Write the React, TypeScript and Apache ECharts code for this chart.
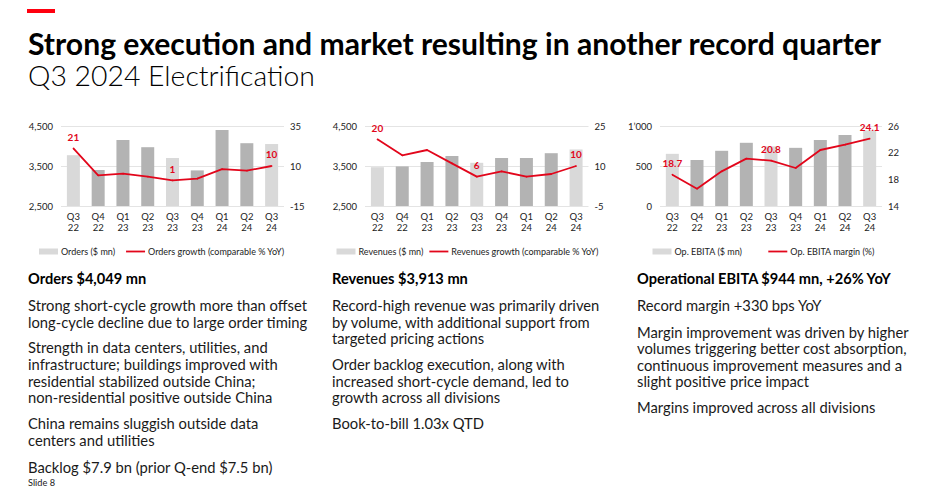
import React, { useEffect, useRef } from 'react';
import * as echarts from 'echarts';

// ---------- data ----------
const categories = ['Q3\n22', 'Q4\n22', 'Q1\n23', 'Q2\n23', 'Q3\n23', 'Q4\n23', 'Q1\n24', 'Q2\n24', 'Q3\n24'];

const ordersValues = [3770, 3400, 4150, 3970, 3700, 3390, 4400, 4070, 4049];
const ordersGrowth = [21, 4.2, 5.2, 3.3, 1, 2.1, 8.1, 7.1, 10];

const revenuesValues = [3470, 3490, 3600, 3750, 3580, 3700, 3700, 3820, 3913];
const revenuesGrowth = [20, 14, 16, 11, 6, 8, 6, 7, 10];

const ebitaValues = [652, 575, 690, 790, 745, 727, 826, 886, 944];
const ebitaMargin = [18.7, 16.6, 19.2, 21.1, 20.8, 19.7, 22.4, 23.2, 24.1];

const ordersLeftTicks = [2500, 3500, 4500];
const ordersRightTicks = [-15, 10, 35];
const revenuesLeftTicks = [2500, 3500, 4500];
const revenuesRightTicks = [-5, 10, 25];
const ebitaLeftTicks = [0, 500, 1000];
const ebitaRightTicks = [14, 18, 22, 26];

const legendNames = [
  ['Orders ($ mn)', 'Orders growth (comparable % YoY)'],
  ['Revenues ($ mn)', 'Revenues growth (comparable % YoY)'],
  ['Op. EBITA ($ mn)', 'Op. EBITA margin (%)'],
];

const titleText = 'Strong execution and market resulting in another record quarter';
const subtitleText = 'Q3 2024 Electrification';

const headings = ['Orders $4,049 mn', 'Revenues $3,913 mn', 'Operational EBITA $944 mn, +26% YoY'];
const paragraphs = [
  [
    'Strong short-cycle growth more than offset\nlong-cycle decline due to large order timing',
    'Strength in data centers, utilities, and\ninfrastructure; buildings improved with\nresidential stabilized outside China;\nnon-residential positive outside China',
    'China remains sluggish outside data\ncenters and utilities',
    'Backlog $7.9 bn (prior Q-end $7.5 bn)',
  ],
  [
    'Record-high revenue was primarily driven\nby volume, with additional support from\ntargeted pricing actions',
    'Order backlog execution, along with\nincreased short-cycle demand, led to\ngrowth across all divisions',
    'Book-to-bill 1.03x QTD',
  ],
  [
    'Record margin +330 bps YoY',
    'Margin improvement was driven by higher\nvolumes triggering better cost absorption,\ncontinuous improvement measures and a\nslight positive price impact',
    'Margins improved across all divisions',
  ],
];
const slideText = 'Slide 8';

// ---------- style ----------
const FAMILY = 'Lato';
const FONT = 'Lato, "Noto Sans", sans-serif';
const RED = '#e2061b';
const LIGHT = '#d9d9d9';
const DARK = '#b3b3b3';
const TEXT = '#1a1a1a';

function fit(text: string, weight: number, target: number): number {
  const ctx = document.createElement('canvas').getContext('2d');
  if (!ctx) return 12;
  ctx.font = `${weight} 100px ${FAMILY}`;
  const w = ctx.measureText(text).width;
  return (100 * target) / w;
}

const isQ3 = (c: string) => c.startsWith('Q3');

export default function App() {
  const ref = useRef<HTMLDivElement>(null);

  useEffect(() => {
    document.body.style.margin = '0';
    if (!ref.current) return;
    const chart = echarts.init(ref.current, null, { renderer: 'svg' });

    const titleSize = fit(titleText, 700, 854);
    const subSize = fit(subtitleText, 300, 287);
    const headSize = fit(headings[2], 700, 255);
    const bodySize = fit('Strong short-cycle growth more than offset', 400, 279);
    const slideSize = fit(slideText, 400, 27);

    const grids = [
      { left: 61, top: 126, width: 223, height: 80 },
      { left: 365, top: 126, width: 223.5, height: 80 },
      { left: 660, top: 126, width: 222, height: 80 },
    ];
    const bars = [ordersValues, revenuesValues, ebitaValues];
    const lines = [ordersGrowth, revenuesGrowth, ebitaMargin];
    const leftTicks = [ordersLeftTicks, revenuesLeftTicks, ebitaLeftTicks];
    const rightTicks = [ordersRightTicks, revenuesRightTicks, ebitaRightTicks];
    const leftFmt = [
      (v: number) => v.toLocaleString('en-US'),
      (v: number) => v.toLocaleString('en-US'),
      (v: number) => v.toLocaleString('en-US').replace(',', '\u2019'),
    ];

    const axisLabelBase = { fontFamily: FONT, fontSize: 9.5, color: '#222' };

    const xAxis = grids.map((_, i) => ({
      type: 'category',
      gridIndex: i,
      data: categories,
      axisLine: { show: false },
      axisTick: { show: false },
      axisLabel: { ...axisLabelBase, margin: 5, lineHeight: 11, interval: 0 },
    }));

    const yAxis: any[] = [];
    grids.forEach((_, i) => {
      const lt = leftTicks[i];
      const rt = rightTicks[i];
      yAxis.push({
        type: 'value',
        gridIndex: i,
        position: 'left',
        min: lt[0],
        max: lt[lt.length - 1],
        axisLine: { show: false },
        axisTick: { show: false, customValues: lt },
        axisLabel: { ...axisLabelBase, margin: 8, customValues: lt, formatter: leftFmt[i] },
        splitLine: { show: true, lineStyle: { color: '#e4e4e4', width: 1 } },
      });
      yAxis.push({
        type: 'value',
        gridIndex: i,
        position: 'right',
        min: rt[0],
        max: rt[rt.length - 1],
        axisLine: { show: false },
        axisTick: { show: false, customValues: rt },
        axisLabel: { ...axisLabelBase, margin: 6, customValues: rt },
        splitLine: { show: false },
      });
    });

    const series: any[] = [];
    grids.forEach((_, i) => {
      series.push({
        type: 'bar',
        name: legendNames[i][0],
        xAxisIndex: i,
        yAxisIndex: i * 2,
        barWidth: 13,
        itemStyle: { color: LIGHT },
        data: bars[i].map((v, k) => ({
          value: v,
          itemStyle: { color: isQ3(categories[k]) ? LIGHT : DARK },
        })),
        z: 2,
      });
      series.push({
        type: 'line',
        name: legendNames[i][1],
        xAxisIndex: i,
        yAxisIndex: i * 2 + 1,
        color: RED,
        lineStyle: { color: RED, width: 1.8 },
        symbol: 'circle',
        symbolSize: 1.5,
        itemStyle: { color: RED },
        label: { show: false },
        data: lines[i].map((v, k) => ({
          value: v,
          label: {
            show: isQ3(categories[k]),
            position: 'top',
            distance: 6,
            color: RED,
            fontWeight: 'bold',
            fontSize: 10,
            fontFamily: FONT,
          },
        })),
        z: 5,
      });
    });

    const legendLefts = [39, 336.5, 652.5];
    const legendGaps = [11, 6, 26];
    const legend = grids.map((_, i) => ({
      left: legendLefts[i],
      top: 247,
      itemWidth: 19,
      itemHeight: 6,
      itemGap: legendGaps[i],
      padding: 0,
      symbolKeepAspect: true,
      textStyle: { fontFamily: FONT, fontSize: 9, color: '#222', padding: [0, 0, 0, -2] },
      data: [
        { name: legendNames[i][0], icon: 'rect' },
        { name: legendNames[i][1], icon: 'path://M0,0H19V1.8H0Z' },
      ],
      selectedMode: false,
    }));

    const graphic: any[] = [
      { type: 'rect', shape: { x: 27, y: 9, width: 28, height: 4 }, style: { fill: '#ff000f' } },
      {
        type: 'text',
        x: 28,
        y: 42.5,
        style: {
          text: titleText,
          fontFamily: FONT,
          fontWeight: 700,
          fontSize: titleSize,
          fill: '#000',
          verticalAlign: 'middle',
        },
      },
      {
        type: 'text',
        x: 28,
        y: 74.5,
        style: {
          text: subtitleText,
          fontFamily: FONT,
          fontWeight: 300,
          fontSize: subSize,
          fill: '#000',
          verticalAlign: 'middle',
        },
      },
    ];

    const colX = [28, 332, 637];
    const paraStarts = [
      [305, 347.3, 423.3, 466.7],
      [305, 364, 423.3],
      [305, 331.7, 406.7],
    ];
    const LH = 16.6;
    colX.forEach((x, i) => {
      graphic.push({
        type: 'text',
        x,
        y: 278.3,
        style: {
          text: headings[i],
          fontFamily: FONT,
          fontWeight: 700,
          fontSize: headSize,
          fill: '#000',
          verticalAlign: 'middle',
        },
      });
      paragraphs[i].forEach((p, k) => {
        graphic.push({
          type: 'text',
          x,
          y: paraStarts[i][k] - LH / 2,
          style: {
            text: p,
            fontFamily: FONT,
            fontWeight: 400,
            fontSize: bodySize,
            lineHeight: LH,
            fill: TEXT,
            verticalAlign: 'top',
          },
        });
      });
    });
    graphic.push({
      type: 'text',
      x: 28,
      y: 482,
      style: {
        text: slideText,
        fontFamily: FONT,
        fontSize: slideSize,
        fill: TEXT,
        verticalAlign: 'middle',
      },
    });

    chart.setOption({
      animation: false,
      backgroundColor: '#fff',
      textStyle: { fontFamily: FONT },
      grid: grids,
      xAxis,
      yAxis,
      series,
      legend,
      graphic,
    });

    return () => chart.dispose();
  }, []);

  return <div ref={ref} style={{ width: 928, height: 499 }} />;
}
